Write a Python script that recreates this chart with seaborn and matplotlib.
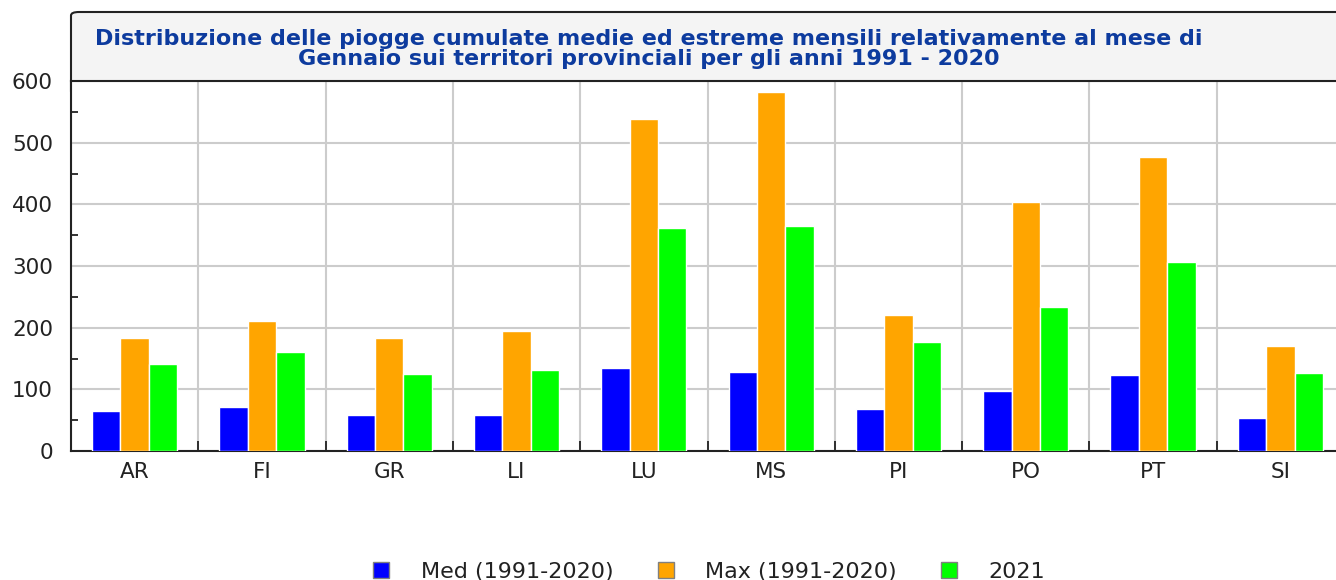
import numpy as np
import pandas as pd
import matplotlib
matplotlib.use("Agg")
import matplotlib.pyplot as plt
from matplotlib.patches import FancyBboxPatch
from matplotlib.ticker import MultipleLocator, FixedLocator
import seaborn as sns

province = ["AR", "FI", "GR", "LI", "LU", "MS", "PI", "PO", "PT", "SI"]
med = [65, 71, 58, 58, 135, 128, 68, 98, 124, 54]
mx = [184, 211, 184, 194, 538, 582, 221, 404, 477, 171]
anno2021 = [141, 161, 125, 131, 361, 365, 177, 234, 307, 127]
series = ["Med (1991-2020)", "Max (1991-2020)", "2021"]
colors = ["#0000ff", "#ffa500", "#00ff00"]

df = pd.DataFrame({
    "prov": province * 3,
    "val": med + mx + anno2021,
    "serie": [s for s in series for _ in province],
})

sns.set_theme(style="white")
plt.rcParams["font.family"] = ["DejaVu Sans"]

W, H = 1336, 580
fig = plt.figure(figsize=(W / 100, H / 100), dpi=100)
ax = fig.add_axes([71 / W, 129 / H, (1344 - 71) / W, 370 / H])
ax.set_zorder(1)

sns.barplot(data=df, x="prov", y="val", hue="serie", palette=colors,
            width=0.67, saturation=1, edgecolor="white", linewidth=1.0,
            ax=ax, zorder=3)

ax.set_ylim(0, 600)
ax.set_xlim(-0.5, len(province) - 0.5)
ax.yaxis.set_major_locator(MultipleLocator(100))
ax.yaxis.set_minor_locator(MultipleLocator(50))
ax.xaxis.set_minor_locator(FixedLocator(np.arange(-0.5, len(province), 1)))

ax.tick_params(axis="y", which="major", direction="in", length=8, width=1.3,
               color="#222222", labelsize=15.5, pad=13, labelcolor="#222222")
ax.tick_params(axis="y", which="minor", direction="in", length=5, width=1.3,
               color="#222222", left=True)
ax.tick_params(axis="x", which="major", length=0, labelsize=15.5, pad=8,
               labelcolor="#222222")
ax.tick_params(axis="x", which="minor", direction="in", length=7, width=1.3,
               color="#222222", bottom=True)

ax.grid(True, axis="y", which="major", color="#cccccc", lw=1.5, zorder=0)
ax.grid(True, axis="x", which="minor", color="#cccccc", lw=1.5, zorder=0)
ax.set_axisbelow(True)

for side in ["left", "bottom", "top"]:
    ax.spines[side].set_visible(True)
    ax.spines[side].set_color("#222222")
    ax.spines[side].set_linewidth(1.5)
ax.spines["right"].set_visible(False)
ax.set_xlabel("")
ax.set_ylabel("")

# title box (bottom part hidden behind the axes)
box = FancyBboxPatch((71 / W, (H - 95) / H), 1.2, 83 / H,
                     boxstyle="round,pad=0,rounding_size=0.006",
                     transform=fig.transFigure, facecolor="#f4f4f4",
                     edgecolor="#222222", linewidth=1.5, zorder=-1)
fig.patches.append(box)
fig.text(649 / W, 1 - 49 / H,
         "Distribuzione delle piogge cumulate medie ed estreme mensili relativamente al mese di\n"
         "Gennaio sui territori provinciali per gli anni 1991 - 2020",
         ha="center", va="center", multialignment="center", fontsize=16,
         fontweight="bold", color="#0d3b9e", linespacing=1.05)

handles, labels = ax.get_legend_handles_labels()
ax.get_legend().remove()
for h in handles:
    h.set_edgecolor("#808080")
    h.set_linewidth(1)
fig.legend(handles, labels, loc="upper center", bbox_to_anchor=(709 / W, 1 - 551 / H),
           ncol=3, frameon=False, fontsize=16, handlelength=0.72, handleheight=0.72,
           handletextpad=1.4, columnspacing=2.0, borderpad=0, labelcolor="#222222")

fig.savefig("out.png", dpi=100)
